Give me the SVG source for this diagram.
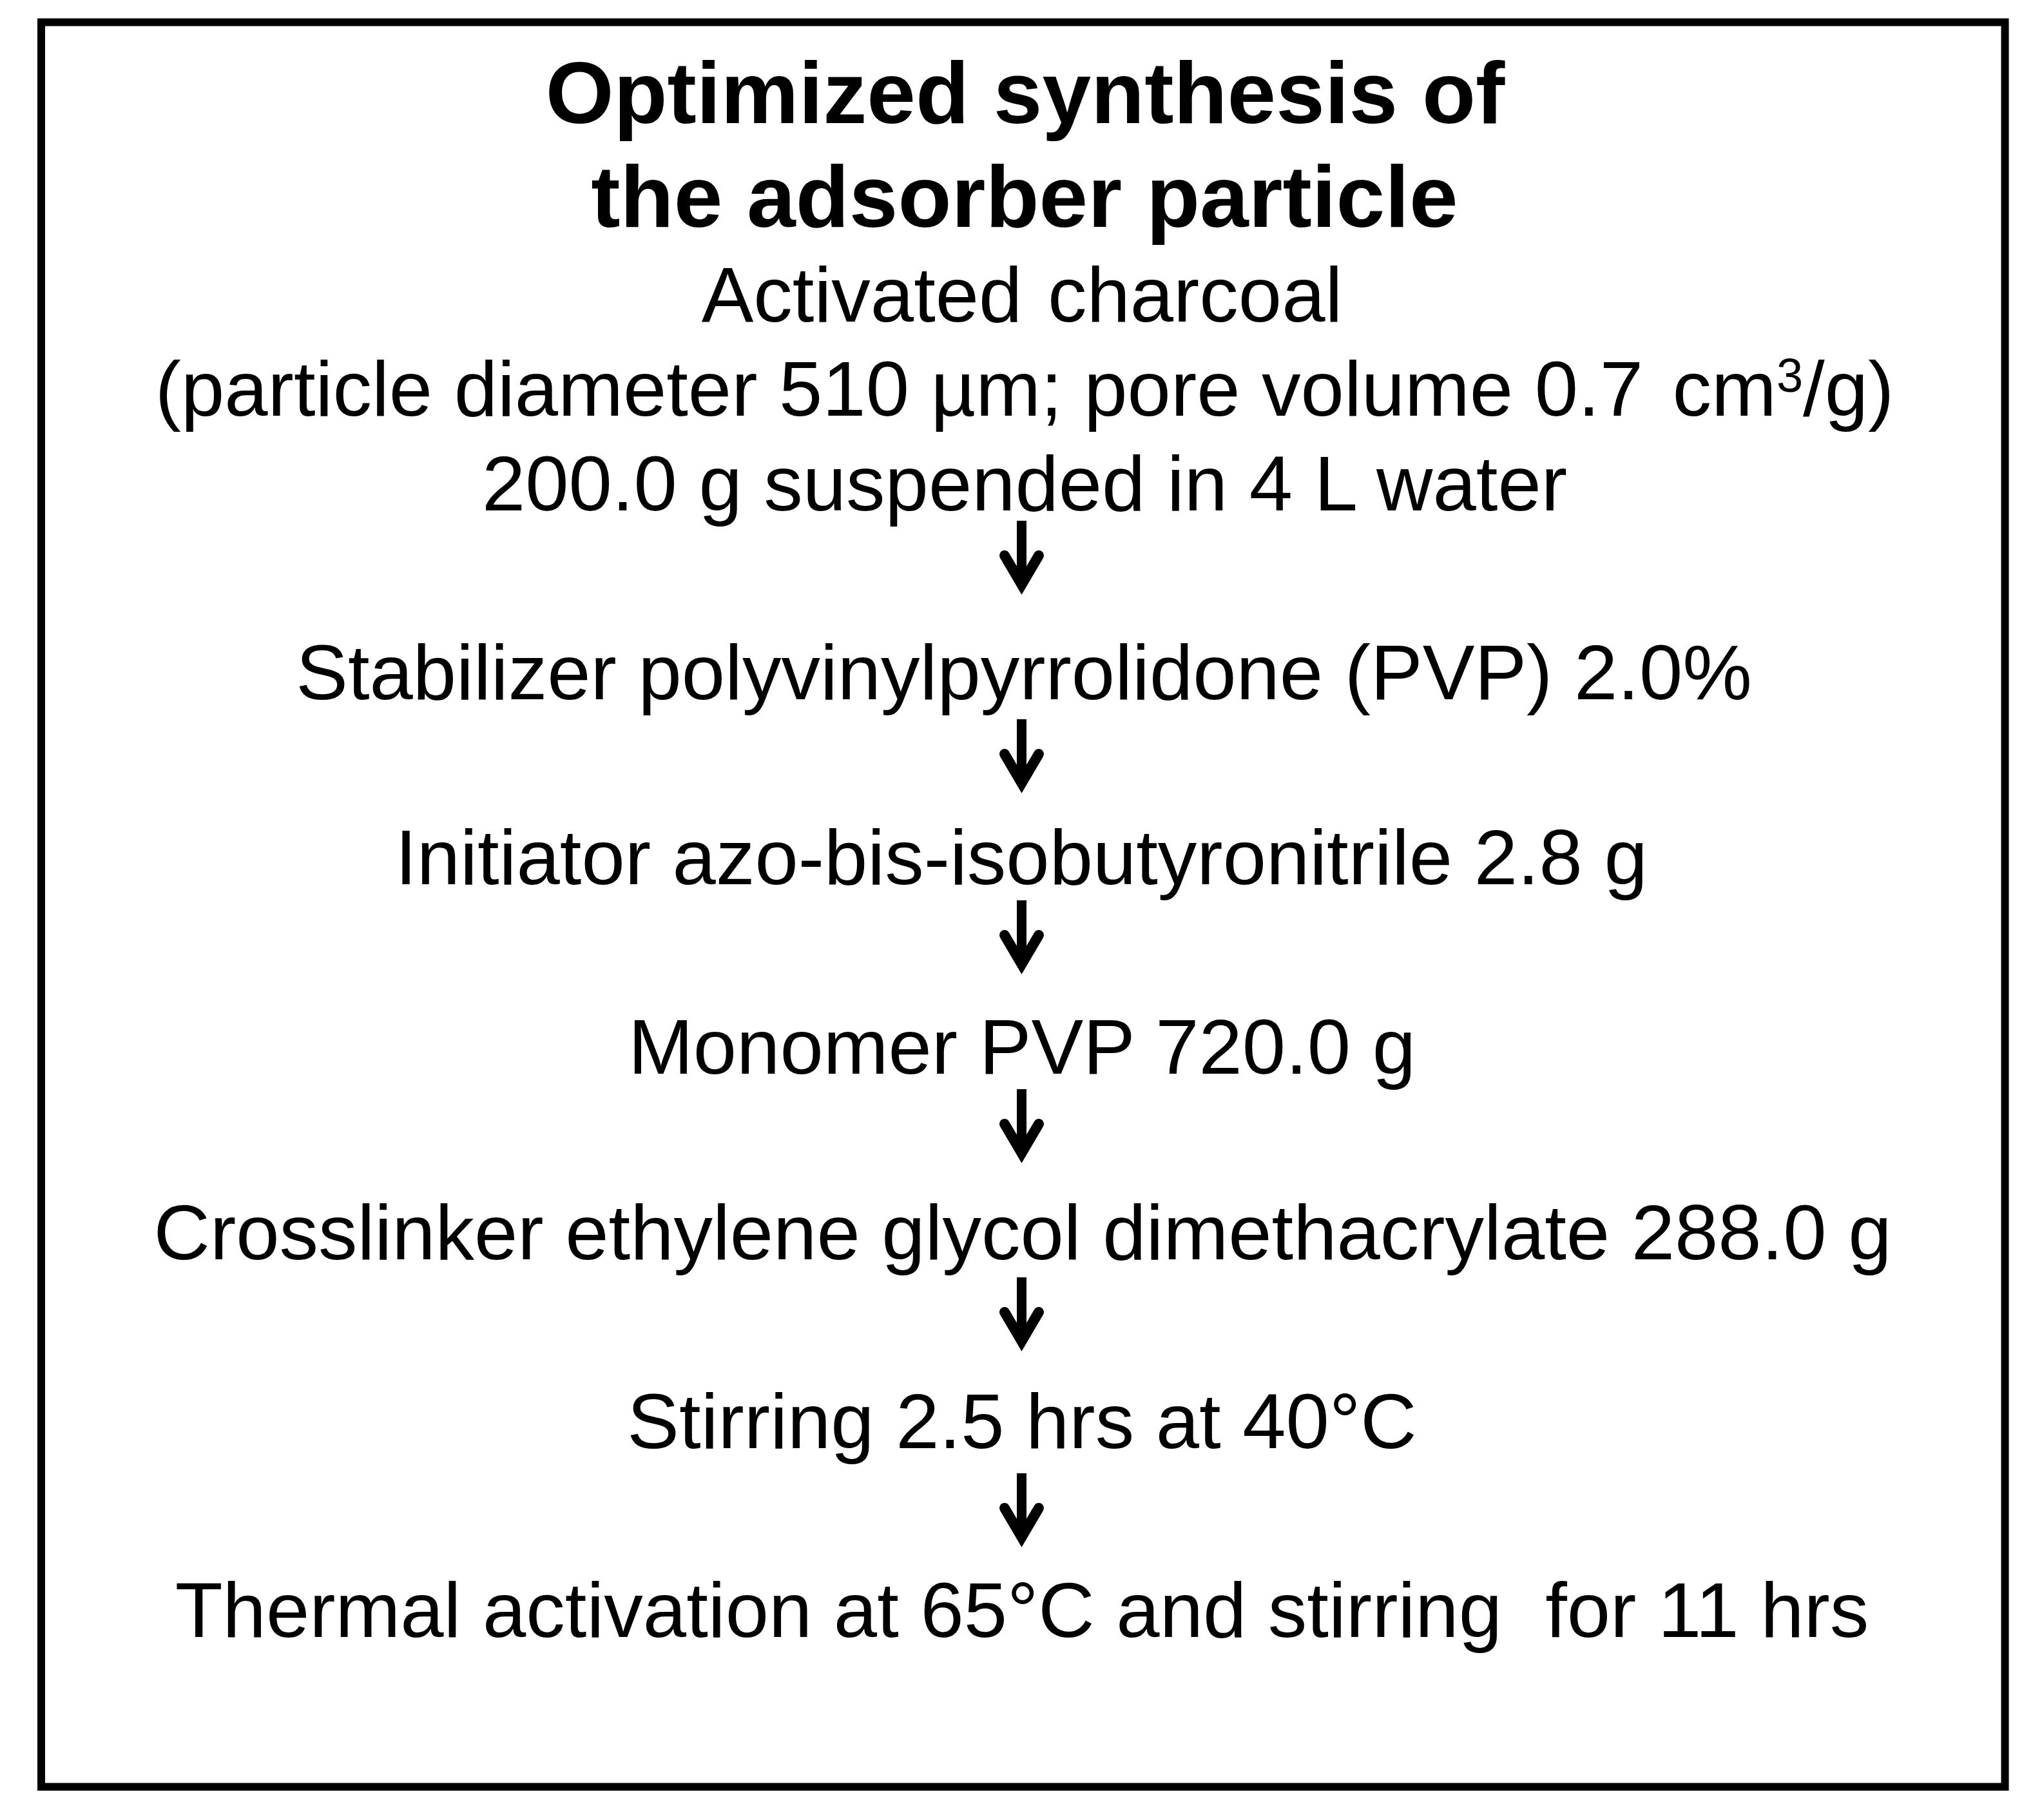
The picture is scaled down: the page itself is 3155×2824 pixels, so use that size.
<svg xmlns="http://www.w3.org/2000/svg" width="3155" height="2824" viewBox="0 0 3155 2824">
  <style>
    .t { font-family: "Liberation Sans", Arial, sans-serif; font-size: 121px; fill: #000; text-anchor: middle; }
    .title { font-family: "Liberation Sans", Arial, sans-serif; font-size: 136px; font-weight: bold; fill: #000; text-anchor: middle; }
    .shaft { stroke: #000; stroke-width: 15; fill: none; }
    .head { stroke: #000; stroke-width: 16; fill: none; stroke-linecap: round; stroke-linejoin: miter; }
  </style>
  <defs>
    <g id="arrow">
      <line class="shaft" x1="0" y1="-115" x2="0" y2="-20"/>
      <path class="head" d="M-26.5,-61 L0,-16 L26.5,-61"/>
    </g>
  </defs>
  <rect x="0" y="0" width="3155" height="2824" fill="#fff"/>
  <rect id="frame" x="64" y="34.5" width="3047.5" height="2738" fill="none" stroke="#000" stroke-width="12"/>

  <g id="title">
    <text class="title" x="1591" y="191">Optimized synthesis of</text>
    <text class="title" x="1590" y="352">the adsorber particle</text>
  </g>

  <g id="node-charcoal">
    <text class="t" x="1586" y="499">Activated <tspan dx="6">charcoal</tspan></text>
    <text class="t" x="1590" y="645">(particle diameter 510 µm; pore volume 0.7 <tspan dx="12">cm</tspan><tspan font-size="74" dy="-37">3</tspan><tspan dy="37">/g)</tspan></text>
    <text class="t" x="1590" y="792">200.0 g suspended in 4 L water</text>
  </g>
  <g id="node-stabilizer">
    <text class="t" x="1589" y="1085">Stabilizer polyvinylpyrrolidone (PVP) 2.0%</text>
  </g>
  <g id="node-initiator">
    <text class="t" x="1585" y="1372">Initiator azo-bis-isobutyronitrile 2.8 g</text>
  </g>
  <g id="node-monomer">
    <text class="t" x="1586" y="1666">Monomer PVP 720.0 g</text>
  </g>
  <g id="node-crosslinker">
    <text class="t" x="1587" y="1954">Crosslinker ethylene glycol dimethacrylate 288.0 g</text>
  </g>
  <g id="node-stirring">
    <text class="t" x="1586" y="2247">Stirring 2.5 hrs at 40°C</text>
  </g>
  <g id="node-thermal">
    <text class="t" x="1586" y="2540" xml:space="preserve">Thermal activation at 65°C and stirring  for 11 hrs</text>
  </g>

  <g id="connectors">
    <use href="#arrow" transform="translate(1585.5,923)"/>
    <use href="#arrow" transform="translate(1585.5,1231)"/>
    <use href="#arrow" transform="translate(1585.5,1512)"/>
    <use href="#arrow" transform="translate(1585.5,1805)"/>
    <use href="#arrow" transform="translate(1585.5,2097)"/>
    <use href="#arrow" transform="translate(1585.5,2401)"/>
  </g>
</svg>
